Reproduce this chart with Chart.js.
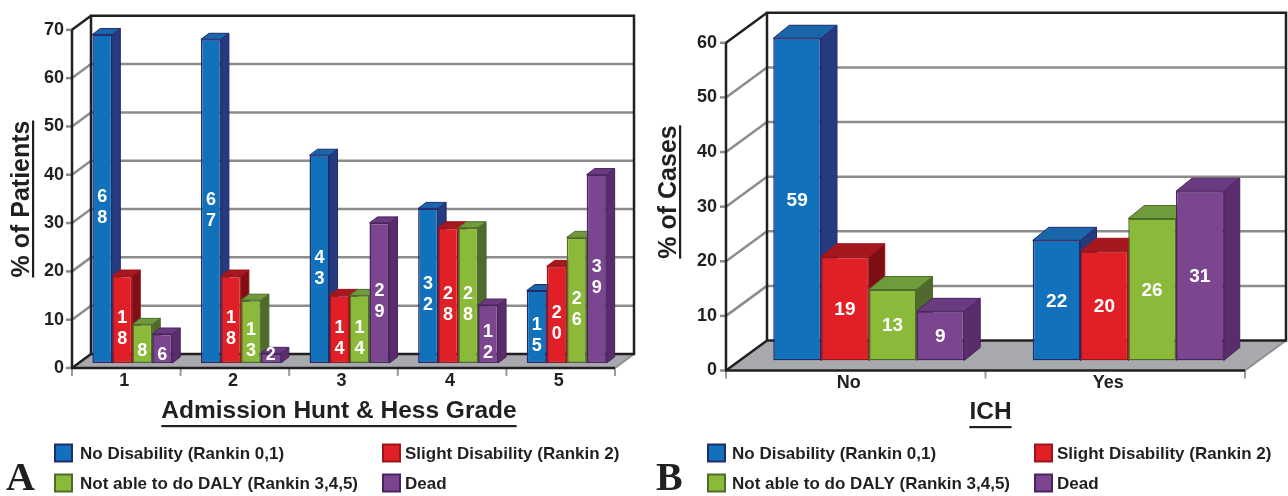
<!DOCTYPE html>
<html>
<head>
<meta charset="utf-8">
<script src="https://cdn.jsdelivr.net/npm/chart.js@4.4.1/dist/chart.umd.min.js"></script>
<style>
  html, body { margin: 0; padding: 0; background: #fff; }
  body { width: 1288px; height: 496px; position: relative; overflow: hidden; }
  canvas { position: absolute; top: 0; }
  #chartA { left: 0; }
  #chartB { left: 644px; }
</style>
</head>
<body>
<canvas id="chartA" width="644" height="496"></canvas>
<canvas id="chartB" width="644" height="496"></canvas>
<script>
// Panel A - outcome by admission Hunt & Hess grade
const gradeLabels = ["1", "2", "3", "4", "5"];
const gradeNoDisability = [68, 67, 43, 32, 15];
const gradeSlight = [18, 18, 14, 28, 20];
const gradeNotAble = [8, 13, 14, 28, 26];
const gradeDead = [6, 2, 29, 12, 39];
const gradeTicks = [0, 10, 20, 30, 40, 50, 60, 70];

// Panel B - outcome by ICH
const ichLabels = ["No", "Yes"];
const ichNoDisability = [59, 22];
const ichSlight = [19, 20];
const ichNotAble = [13, 26];
const ichDead = [9, 31];
const ichTicks = [0, 10, 20, 30, 40, 50, 60];

const seriesNames = [
    "No Disability (Rankin 0,1)",
    "Slight Disability (Rankin 2)",
    "Not able to do DALY (Rankin 3,4,5)",
    "Dead"
];

const faceColors = ["#1172bb", "#e11f27", "#8bb93a", "#7b4590"];
const borderColors = ["#222b6e", "#9c151b", "#4f6b2a", "#4a2461"];
const sideColors = ["#263a80", "#7e1015", "#4f6a2c", "#5a2c6c"];
const topColors = ["#1a66aa", "#a6181e", "#6f9b3c", "#6a3b80"];

const INK = "#231f20";
const FONT = "'Liberation Sans', Arial, Helvetica, sans-serif";

function line(ctx, x1, y1, x2, y2, color, w) {
    ctx.strokeStyle = color;
    ctx.lineWidth = w;
    ctx.beginPath();
    ctx.moveTo(x1, y1);
    ctx.lineTo(x2, y2);
    ctx.stroke();
}

function poly(ctx, pts, fill, stroke) {
    ctx.beginPath();
    ctx.moveTo(pts[0][0], pts[0][1]);
    for (let i = 1; i < pts.length; i++) ctx.lineTo(pts[i][0], pts[i][1]);
    ctx.closePath();
    ctx.fillStyle = fill;
    ctx.fill();
    ctx.strokeStyle = stroke;
    ctx.lineWidth = 1;
    ctx.stroke();
}

// draws the 3D frame (floor, back wall, side wall) and the bar sides/tops
const box3d = {
    id: "box3d",
    beforeDatasetsDraw(chart, args, o) {
        const ctx = chart.ctx;
        const xs = chart.scales.x, ys = chart.scales.y;
        const L = xs.left, R = xs.right;
        const B = ys.getPixelForValue(0), T = ys.getPixelForValue(ys.max);
        const [fx, fy] = o.front, [bx, by] = o.back;
        ctx.save();
        ctx.lineCap = "butt";

        // floor
        poly(ctx, [[L + fx, B + fy], [R + fx, B + fy], [R + bx, B + by], [L + bx, B + by]], "#a7a9ac", "#a7a9ac");
        line(ctx, R + fx, B + fy, R + bx, B + by, "#8d8f92", 2);

        // grid on back wall and left wall
        ys.ticks.forEach(t => {
            const py = ys.getPixelForValue(t.value);
            if (t.value > 0 && t.value < ys.max) {
                line(ctx, L + bx, py + by, R + bx, py + by, "#8c8c8c", 2.5);
                line(ctx, L + fx, py + fy, L + bx, py + by, "#8c8c8c", 2.5);
            }
            line(ctx, L + fx - 6, py + fy, L + fx, py + fy, "#8c8c8c", 2.5);
        });

        // x ticks at category boundaries
        const n = chart.data.labels.length;
        const step = (R - L) / n;
        for (let i = 0; i <= n; i++) {
            const px = L + i * step + fx;
            line(ctx, px, B + fy, px, B + fy + 8, "#9a9a9a", 2);
        }

        // back wall frame
        ctx.strokeStyle = INK;
        ctx.lineWidth = 2.5;
        ctx.lineJoin = "miter";
        ctx.beginPath();
        ctx.moveTo(L + bx, B + by);
        ctx.lineTo(L + bx, T + by);
        ctx.lineTo(R + bx, T + by);
        ctx.lineTo(R + bx, B + by);
        ctx.lineTo(L + bx, B + by);
        ctx.stroke();
        line(ctx, L + fx, T + fy, L + bx, T + by, INK, 2.5);
        line(ctx, L + fx, B + fy, L + bx, B + by, INK, 2.5);
        line(ctx, L + fx, T + fy, L + fx, B + fy, INK, 2.5);
        line(ctx, L + fx - 1, B + fy, R + fx, B + fy, INK, 2.5);

        // bar sides and tops, left to right
        const [dx, dy] = o.depth;
        for (let i = 0; i < n; i++) {
            chart.data.datasets.forEach((ds, d) => {
                const el = chart.getDatasetMeta(d).data[i];
                const p = el.getProps(["x", "y", "base", "width"], true);
                const l = p.x - p.width / 2, r = p.x + p.width / 2;
                poly(ctx, [[r, p.y], [r + dx, p.y + dy], [r + dx, p.base + dy], [r, p.base]], sideColors[d], borderColors[d]);
                poly(ctx, [[l, p.y], [l + dx, p.y + dy], [r + dx, p.y + dy], [r, p.y]], topColors[d], borderColors[d]);
            });
        }
        ctx.restore();
    },
    afterDatasetsDraw(chart, args, o) {
        // value labels inside bars
        const ctx = chart.ctx;
        ctx.save();
        ctx.fillStyle = "#ffffff";
        ctx.textAlign = "center";
        ctx.textBaseline = "middle";
        ctx.font = "bold " + o.valueSize + "px " + FONT;
        chart.data.datasets.forEach((ds, d) => {
            chart.getDatasetMeta(d).data.forEach((el, i) => {
                const p = el.getProps(["x", "y", "base"], true);
                const text = String(ds.data[i]);
                const mid = (p.y + p.base) / 2;
                if (o.stackDigits) {
                    const lh = 21;
                    const digits = text.split("");
                    let cy = mid + (digits.length > 1 ? 9 : 7);
                    cy = Math.min(cy, p.base - 8 - (digits.length - 1) * lh / 2);
                    digits.forEach((ch, k) => {
                        ctx.fillText(ch, p.x, cy + (k - (digits.length - 1) / 2) * lh);
                    });
                } else {
                    ctx.fillText(text, p.x, mid + 1);
                }
            });
        });
        ctx.restore();
    },
    afterDraw(chart, args, o) {
        const ctx = chart.ctx;
        ctx.save();
        ctx.fillStyle = INK;
        ctx.strokeStyle = INK;

        // x axis title, underlined
        ctx.font = "bold 24.5px " + FONT;
        ctx.textAlign = "center";
        ctx.textBaseline = "alphabetic";
        ctx.fillText(o.xTitle, o.xTitlePos[0], o.xTitlePos[1]);
        let w = ctx.measureText(o.xTitle).width;
        ctx.fillRect(o.xTitlePos[0] - w / 2, o.xTitlePos[1] + 7, w, 2.2);

        // y axis title, rotated and underlined
        ctx.font = "bold 25px " + FONT;
        ctx.translate(o.yTitlePos[0], o.yTitlePos[1]);
        ctx.rotate(-Math.PI / 2);
        ctx.fillText(o.yTitle, 0, 0);
        w = ctx.measureText(o.yTitle).width;
        ctx.fillRect(-w / 2, 3, w, 2.2);
        ctx.setTransform(1, 0, 0, 1, 0, 0);

        // panel letter
        ctx.font = "bold 40px 'Liberation Serif', 'Times New Roman', serif";
        ctx.textAlign = "left";
        ctx.fillText(o.letter, o.letterPos[0], o.letterPos[1]);

        // legend, 2 x 2
        ctx.font = "bold 17px " + FONT;
        ctx.textBaseline = "middle";
        seriesNames.forEach((name, k) => {
            const col = k % 2, row = Math.floor(k / 2);
            const bxp = o.legendBoxX[col], tx = o.legendTextX[col];
            const ty = o.legendRowY[row];
            ctx.fillStyle = faceColors[k];
            ctx.fillRect(bxp, ty - 8.5, 17, 17);
            ctx.strokeStyle = borderColors[k];
            ctx.lineWidth = 2;
            ctx.strokeRect(bxp, ty - 8.5, 17, 17);
            ctx.fillStyle = INK;
            ctx.fillText(name, tx, ty + 1);
        });
        ctx.restore();
    }
};

function buildDatasets(seriesValues) {
    return seriesValues.map((vals, d) => ({
        label: seriesNames[d],
        data: vals,
        backgroundColor: faceColors[d],
        borderColor: borderColors[d],
        borderWidth: 1.5,
        borderSkipped: false,
        categoryPercentage: 0.736,
        barPercentage: 1
    }));
}

function makeChart(id, labels, seriesValues, ticks, geo) {
    const ctx = document.getElementById(id).getContext("2d");
    return new Chart(ctx, {
        type: "bar",
        data: { labels: labels, datasets: buildDatasets(seriesValues) },
        options: {
            responsive: false,
            animation: false,
            events: [],
            layout: { padding: { top: geo.top, right: geo.right, bottom: 0, left: 0 } },
            scales: {
                x: {
                    grid: { display: false, drawTicks: false },
                    border: { display: false },
                    ticks: {
                        color: INK,
                        font: { family: FONT, size: 18, weight: "bold" },
                        padding: geo.xTickPad,
                        labelOffset: geo.xLabelOffset,
                        maxRotation: 0
                    },
                    afterFit: (s) => { s.height = 496 - geo.bottom; }
                },
                y: {
                    min: ticks[0],
                    max: ticks[ticks.length - 1],
                    grid: { display: false, drawTicks: false },
                    border: { display: false },
                    ticks: {
                        stepSize: ticks[1] - ticks[0],
                        color: INK,
                        font: { family: FONT, size: 18, weight: "bold" },
                        padding: geo.yTickPad,
                        labelOffset: geo.front[1]
                    },
                    afterFit: (s) => { s.width = geo.left; }
                }
            },
            plugins: {
                legend: { display: false },
                tooltip: { enabled: false },
                box3d: {
                    front: geo.front,
                    back: geo.back,
                    depth: geo.depth,
                    stackDigits: geo.stackDigits,
                    valueSize: geo.valueSize,
                    xTitle: geo.xTitle,
                    xTitlePos: geo.xTitlePos,
                    yTitle: geo.yTitle,
                    yTitlePos: geo.yTitlePos,
                    letter: geo.letter,
                    letterPos: geo.letterPos,
                    legendBoxX: geo.legendBoxX,
                    legendTextX: geo.legendTextX,
                    legendRowY: [453, 483]
                }
            }
        },
        plugins: [box3d]
    });
}

makeChart("chartA", gradeLabels,
    [gradeNoDisability, gradeSlight, gradeNotAble, gradeDead], gradeTicks, {
    left: 78, right: 23, top: 19.3, bottom: 363,
    front: [-6, 5], back: [13, -9], depth: [8, -6],
    xTickPad: 7, xLabelOffset: -8, yTickPad: 14,
    stackDigits: true, valueSize: 18,
    xTitle: "Admission Hunt & Hess Grade", xTitlePos: [339, 418],
    yTitle: "% of Patients", yTitlePos: [29, 199],
    letter: "A", letterPos: [6, 490],
    legendBoxX: [55, 383], legendTextX: [80, 405]
});

makeChart("chartB", ichLabels,
    [ichNoDisability, ichSlight, ichNotAble, ichDead], ichTicks, {
    left: 95, right: 30, top: 28.7, bottom: 360.5,
    front: [-13, 10], back: [28, -20], depth: [16, -13],
    xTickPad: 11.7, xLabelOffset: -20, yTickPad: 22,
    stackDigits: false, valueSize: 19,
    xTitle: "ICH", xTitlePos: [346.5, 419],
    yTitle: "% of Cases", yTitlePos: [32, 192],
    letter: "B", letterPos: [12, 490],
    legendBoxX: [64, 391], legendTextX: [88, 413]
});
</script>
</body>
</html>
